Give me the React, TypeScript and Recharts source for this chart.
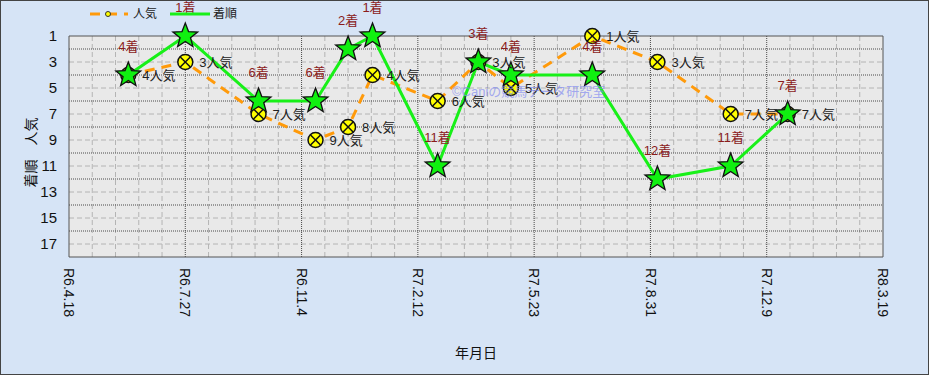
import React from 'react';
import { ComposedChart, Line, XAxis, YAxis, CartesianGrid, LabelList, Label } from 'recharts';

// race dates (西暦) and results
const raceDates = [
  '2024-06-08', '2024-07-27', '2024-09-28', '2024-11-16', '2024-12-14', '2025-01-04', '2025-03-01',
  '2025-04-05', '2025-05-03', '2025-07-12', '2025-09-06', '2025-11-08', '2025-12-27',
];
const ninki = [4, 3, 7, 9, 8, 4, 6, 3, 5, 1, 3, 7, 7];
const chakujun = [4, 1, 6, 6, 2, 1, 11, 3, 4, 4, 12, 11, 7];

const tickDates = ['2024-04-18', '2024-07-27', '2024-11-04', '2025-02-12', '2025-05-23', '2025-08-31', '2025-12-09', '2026-03-19'];
const tickLabels = ['R6.4.18', 'R6.7.27', 'R6.11.4', 'R7.2.12', 'R7.5.23', 'R7.8.31', 'R7.12.9', 'R8.3.19'];
const yTicks = [1, 3, 5, 7, 9, 11, 13, 15, 17];
const yMin = 1;
const yMax = 18;

const FONT = '"Liberation Sans", Arial, "Noto Sans CJK JP", sans-serif';

const toDay = (s: string) => {
  const [y, m, d] = s.split('-').map(Number);
  return Date.UTC(y, m - 1, d) / 86400000;
};

const data = raceDates.map((d, i) => ({ day: toDay(d), ninki: ninki[i], chaku: chakujun[i] }));
const majorX = tickDates.map(toDay);
const minorX: number[] = [];
for (let i = 0; i < majorX.length - 1; i++) {
  for (let k = 1; k < 5; k++) minorX.push(majorX[i] + ((majorX[i + 1] - majorX[i]) * k) / 5);
}
const evenY = [2, 4, 6, 8, 10, 12, 14, 16];
const oddY = yTicks.filter((v) => v > yMin);

const Star = (props: any) => {
  const { cx, cy, index } = props;
  if (cx == null || cy == null) return null;
  const pts: string[] = [];
  for (let i = 0; i < 10; i++) {
    const r = i % 2 === 0 ? 13 : 5.5;
    const a = -Math.PI / 2 + (i * Math.PI) / 5;
    pts.push(`${cx + r * Math.cos(a)},${cy + r * Math.sin(a)}`);
  }
  return <polygon key={`s${index}`} points={pts.join(' ')} fill="#10f010" stroke="#111" strokeWidth={1.3} />;
};

const CrossCircle = (props: any) => {
  const { cx, cy, index } = props;
  if (cx == null || cy == null) return null;
  const d = 5;
  return (
    <g key={`c${index}`}>
      <circle cx={cx} cy={cy} r={7.5} fill="#ffff00" stroke="#111" strokeWidth={1.5} />
      <line x1={cx - d} y1={cy - d} x2={cx + d} y2={cy + d} stroke="#111" strokeWidth={1.5} />
      <line x1={cx - d} y1={cy + d} x2={cx + d} y2={cy - d} stroke="#111" strokeWidth={1.5} />
    </g>
  );
};

const chakuLabel = (props: any) => {
  const { x, y, value } = props;
  return (
    <text x={x} y={y - 24} textAnchor="middle" fontSize={13} fontFamily={FONT} fill="#8b1c1c">
      {value}着
    </text>
  );
};

const ninkiLabel = (props: any) => {
  const { x, y, value } = props;
  return (
    <text x={x + 14} y={y + 5} textAnchor="start" fontSize={13} fontFamily={FONT} fill="#222">
      {value}人気
    </text>
  );
};

const XTick = (props: any) => {
  const { x, y, payload } = props;
  const idx = majorX.indexOf(payload.value);
  return (
    <g transform={`translate(${x},${y})`}>
      <text transform="rotate(90)" x={0} y={0} dy="0.35em" textAnchor="start" fontSize={14} fontFamily={FONT} fill="#111">
        {tickLabels[idx]}
      </text>
    </g>
  );
};

const YLabel = (props: any) => {
  const { viewBox } = props;
  const cx = 31;
  const cy = viewBox.y + viewBox.height / 2 + 6;
  return (
    <text x={cx} y={cy} transform={`rotate(-90, ${cx}, ${cy})`} textAnchor="middle" dy="0.35em" fontSize={14} fontFamily={FONT} fill="#111">
      着順　人気
    </text>
  );
};

export default function App() {
  return (
    <div style={{ position: 'absolute', left: 0, top: 0, width: 929, height: 375, background: '#d6e4f6', fontFamily: FONT }}>
      <ComposedChart width={929} height={375} data={data} margin={{ top: 36, right: 46, bottom: 0, left: 0 }}>
        <CartesianGrid
          fill="#e9e9e9"
          stroke="#b4b4b4"
          strokeDasharray="5 3"
          horizontalValues={oddY}
          verticalValues={minorX}
        />
        <CartesianGrid
          fill="none"
          stroke="#4a4a4a"
          strokeDasharray="1 1"
          horizontalValues={evenY}
          verticalValues={majorX.slice(1, -1)}
        />
        <CartesianGrid
          fill="none"
          stroke="#555"
          horizontalValues={[yMin, yMax]}
          verticalValues={[majorX[0], majorX[majorX.length - 1]]}
        />
        <XAxis
          type="number"
          dataKey="day"
          domain={[majorX[0], majorX[majorX.length - 1]]}
          ticks={majorX}
          tick={<XTick />}
          tickLine={false}
          axisLine={false}
          tickSize={0}
          tickMargin={11}
          height={118}
          interval={0}
        >
          <Label value="年月日" position="insideBottom" offset={17} fontSize={14} fill="#111" fontFamily={FONT} />
        </XAxis>
        <YAxis
          type="number"
          reversed
          domain={[yMin, yMax]}
          ticks={yTicks}
          interval={0}
          width={69}
          tickLine={false}
          axisLine={false}
          tickSize={0}
          tickMargin={12}
          tick={{ fontSize: 15, fill: '#111', fontFamily: FONT }}
        >
          <Label content={<YLabel />} />
        </YAxis>
        <Line
          dataKey="ninki"
          stroke="#ff9a0a"
          strokeWidth={3}
          strokeDasharray="10 7"
          dot={CrossCircle}
          isAnimationActive={false}
        >
          <LabelList dataKey="ninki" content={ninkiLabel} />
        </Line>
        <Line
          dataKey="chaku"
          stroke="#18f018"
          strokeWidth={3}
          dot={Star}
          isAnimationActive={false}
        >
          <LabelList dataKey="chaku" content={chakuLabel} />
        </Line>
      </ComposedChart>
      <svg width={170} height={22} style={{ position: 'absolute', left: 88, top: 3 }}>
        <line x1={2} y1={11} x2={40} y2={11} stroke="#ff9a0a" strokeWidth={3} strokeDasharray="10 7" />
        <circle cx={20} cy={11} r={2.5} fill="#ffff00" stroke="#333" strokeWidth={1} />
        <text x={45} y={15} fontSize={12} fontFamily={FONT} fill="#222">人気</text>
        <line x1={82} y1={11} x2={122} y2={11} stroke="#18f018" strokeWidth={3} />
        <text x={125} y={15} fontSize={12} fontFamily={FONT} fill="#222">着順</text>
      </svg>
      <div style={{ position: 'absolute', left: 452, top: 81, fontSize: 13, color: '#7d86f2', opacity: 0.65, pointerEvents: 'none', whiteSpace: 'nowrap' }}>
        ©Caniの競馬データ研究室
      </div>
      <div style={{ position: 'absolute', left: 0, top: 0, width: 929, height: 375, boxSizing: 'border-box', border: '1px solid #444', pointerEvents: 'none' }} />
    </div>
  );
}
